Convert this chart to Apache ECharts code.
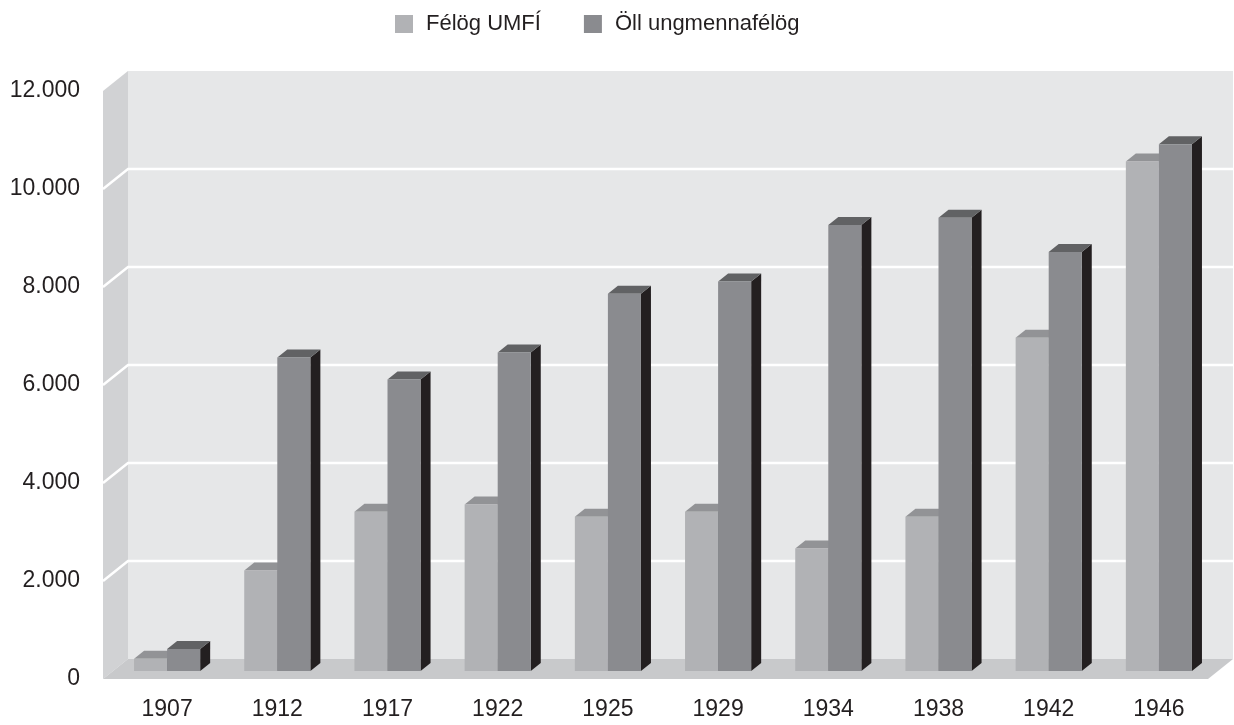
<!DOCTYPE html>
<html>
<head>
<meta charset="utf-8">
<script src="https://cdn.jsdelivr.net/npm/echarts@6/dist/echarts.min.js"></script>
<style>html,body{margin:0;padding:0;background:#fff}#c{width:1234px;height:725px}</style>
</head>
<body>
<div id="c"></div>
<script>
const categories = ['1907','1912','1917','1922','1925','1929','1934','1938','1942','1946'];
const felogUMFI = [250, 2050, 3250, 3400, 3150, 3250, 2500, 3150, 6800, 10400];
const ollUngmennafelog = [450, 6400, 5950, 6500, 7700, 7950, 9100, 9250, 8550, 10750];
const seriesNames = ['Félög UMFÍ', 'Öll ungmennafélög'];
const yTicks = [2000, 4000, 6000, 8000, 10000];

const FONT = '"Liberation Sans", Arial, sans-serif';
const TXT = '#231f20';
const WALL_D = [25, -20];
const BAR_D = [10, -8];

function fmt(v){ return String(v).replace(/\B(?=(\d{3})+(?!\d))/g, '.'); }

function renderBackground(params, api){
  const cs = params.coordSys;
  const xl = cs.x, xr = cs.x + cs.width, yt = cs.y, yb = cs.y + cs.height;
  const dx = WALL_D[0], dy = WALL_D[1];
  const children = [
    {type:'polygon', shape:{points:[[xl,yb],[xl,yt],[xl+dx,yt+dy],[xl+dx,yb+dy]]}, style:{fill:'#d1d2d4'}},
    {type:'rect', shape:{x:xl+dx, y:yt+dy, width:cs.width, height:cs.height}, style:{fill:'#e6e7e8'}},
    {type:'polygon', shape:{points:[[xl,yb],[xl+dx,yb+dy],[xr+dx,yb+dy],[xr,yb]]}, style:{fill:'#c8c9cb'}}
  ];
  yTicks.forEach(function(v){
    const y = api.coord([0, v])[1];
    children.push({type:'polyline', shape:{points:[[xl,y],[xl+dx,y+dy],[xr+dx,y+dy]]}, style:{stroke:'#ffffff', lineWidth:2.5, fill:null}});
  });
  return {type:'group', children: children};
}

function makeBarRenderer(side, front, top, sideColor){
  return function(params, api){
    const i = api.value(0), v = api.value(1);
    const base = api.coord([i, 0]);
    const tp = api.coord([i, v]);
    const band = api.size([1, 0])[0];
    const w = band * 0.3;
    const x0 = side === 0 ? base[0] - w : base[0];
    const x1 = x0 + w;
    const yb = base[1], yt = tp[1];
    const dx = BAR_D[0], dy = BAR_D[1];
    return {type:'group', children:[
      {type:'polygon', shape:{points:[[x1,yt],[x1+dx,yt+dy],[x1+dx,yb+dy],[x1,yb]]}, style:{fill:sideColor}},
      {type:'polygon', shape:{points:[[x0,yt],[x1,yt],[x1+dx,yt+dy],[x0+dx,yt+dy]]}, style:{fill:top}},
      {type:'rect', shape:{x:x0, y:yt, width:w, height:yb-yt}, style:{fill:front}}
    ]};
  };
}

const chart = echarts.init(document.getElementById('c'), null, {renderer:'canvas'});
chart.setOption({
  animation:false,
  backgroundColor:'#ffffff',
  legend:{
    data: seriesNames.map(function(n){return {name:n, icon:'rect'};}),
    left:390, top:8, itemWidth:18, itemHeight:18, itemGap:43,
    textStyle:{fontFamily:FONT, fontSize:22, color:TXT, padding:[0,0,0,8]},
    selectedMode:false
  },
  grid:[
    {left:103, right:26, top:91, bottom:46},
    {left:112, right:20, top:83, bottom:54}
  ],
  xAxis:[
    {type:'category', gridIndex:0, data:categories, show:false},
    {type:'category', gridIndex:1, data:categories,
      axisLine:{show:false}, axisTick:{show:false}, splitLine:{show:false},
      axisLabel:{fontFamily:FONT, fontSize:23, color:TXT, margin:27}}
  ],
  yAxis:[
    {type:'value', gridIndex:0, min:0, max:12000, interval:2000,
      axisLine:{show:false}, axisTick:{show:false}, splitLine:{show:false},
      axisLabel:{fontFamily:FONT, fontSize:23, color:TXT, margin:23, formatter:fmt}},
    {type:'value', gridIndex:1, min:0, max:12000, interval:2000, show:false, splitLine:{show:false}}
  ],
  series:[
    {type:'custom', name:'bg', xAxisIndex:0, yAxisIndex:0, z:1, silent:true,
      renderItem:renderBackground, data:[[0,0]]},
    {type:'custom', name:seriesNames[0], xAxisIndex:1, yAxisIndex:1, z:2,
      itemStyle:{color:'#b1b2b5'},
      renderItem:makeBarRenderer(0, '#b1b2b5', '#929396', '#6d6e71'),
      data:felogUMFI.map(function(v,i){return [i,v];})},
    {type:'custom', name:seriesNames[1], xAxisIndex:1, yAxisIndex:1, z:3,
      itemStyle:{color:'#8a8b8f'},
      renderItem:makeBarRenderer(1, '#8a8b8f', '#616264', '#231f20'),
      data:ollUngmennafelog.map(function(v,i){return [i,v];})}
  ]
});
</script>
</body>
</html>
